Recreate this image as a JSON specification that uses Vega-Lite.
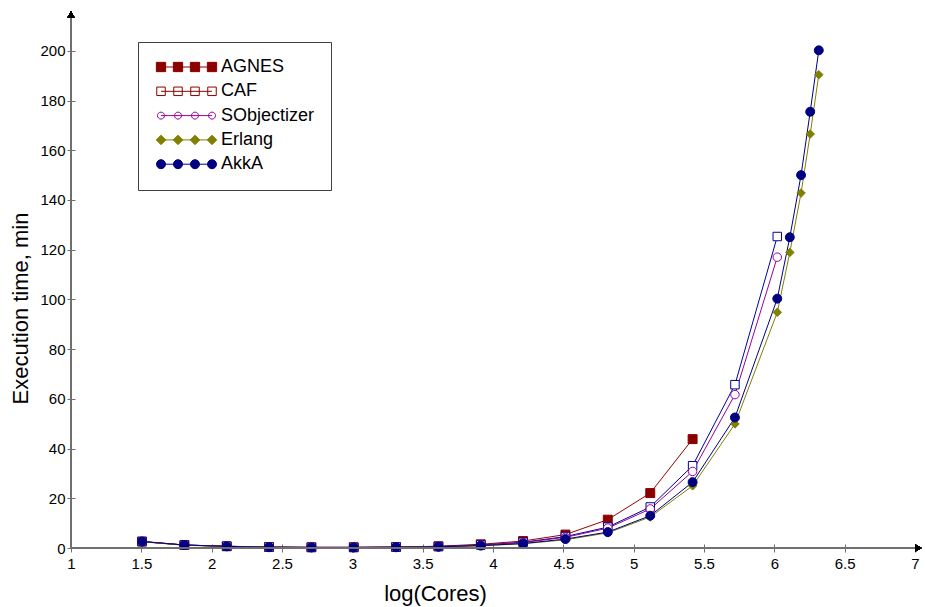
{
  "$schema": "https://vega.github.io/schema/vega-lite/v6.json",
  "width": 844,
  "height": 527,
  "autosize": "none",
  "padding": {"left": 71, "top": 21, "right": 10, "bottom": 59},
  "background": "white",
  "config": {
    "view": {"stroke": null},
    "font": "Liberation Sans",
    "axis": {"grid": false}
  },
  "data": {
    "values": [
      {"series": "AGNES", "logCores": 1.505, "time": 2.6},
      {"series": "AGNES", "logCores": 1.806, "time": 1.2},
      {"series": "AGNES", "logCores": 2.107, "time": 0.7},
      {"series": "AGNES", "logCores": 2.408, "time": 0.4},
      {"series": "AGNES", "logCores": 2.709, "time": 0.3},
      {"series": "AGNES", "logCores": 3.01, "time": 0.3},
      {"series": "AGNES", "logCores": 3.311, "time": 0.4},
      {"series": "AGNES", "logCores": 3.612, "time": 0.7},
      {"series": "AGNES", "logCores": 3.913, "time": 1.5},
      {"series": "AGNES", "logCores": 4.214, "time": 2.8},
      {"series": "AGNES", "logCores": 4.515, "time": 5.4},
      {"series": "AGNES", "logCores": 4.816, "time": 11.4},
      {"series": "AGNES", "logCores": 5.118, "time": 22.1},
      {"series": "AGNES", "logCores": 5.419, "time": 43.8},
      {"series": "CAF", "logCores": 1.505, "time": 2.6},
      {"series": "CAF", "logCores": 1.806, "time": 1.2},
      {"series": "CAF", "logCores": 2.107, "time": 0.7},
      {"series": "CAF", "logCores": 2.408, "time": 0.35},
      {"series": "CAF", "logCores": 2.709, "time": 0.25},
      {"series": "CAF", "logCores": 3.01, "time": 0.25},
      {"series": "CAF", "logCores": 3.311, "time": 0.35},
      {"series": "CAF", "logCores": 3.612, "time": 0.6},
      {"series": "CAF", "logCores": 3.913, "time": 1.2},
      {"series": "CAF", "logCores": 4.214, "time": 2.3},
      {"series": "CAF", "logCores": 4.515, "time": 4.6},
      {"series": "CAF", "logCores": 4.816, "time": 8.4},
      {"series": "CAF", "logCores": 5.118, "time": 16.5},
      {"series": "CAF", "logCores": 5.419, "time": 33.1},
      {"series": "CAF", "logCores": 5.72, "time": 65.7},
      {"series": "CAF", "logCores": 6.021, "time": 125.3},
      {"series": "SObjectizer", "logCores": 1.505, "time": 2.6},
      {"series": "SObjectizer", "logCores": 1.806, "time": 1.2},
      {"series": "SObjectizer", "logCores": 2.107, "time": 0.7},
      {"series": "SObjectizer", "logCores": 2.408, "time": 0.35},
      {"series": "SObjectizer", "logCores": 2.709, "time": 0.25},
      {"series": "SObjectizer", "logCores": 3.01, "time": 0.25},
      {"series": "SObjectizer", "logCores": 3.311, "time": 0.35},
      {"series": "SObjectizer", "logCores": 3.612, "time": 0.55},
      {"series": "SObjectizer", "logCores": 3.913, "time": 1.1},
      {"series": "SObjectizer", "logCores": 4.214, "time": 2.2},
      {"series": "SObjectizer", "logCores": 4.515, "time": 4.3},
      {"series": "SObjectizer", "logCores": 4.816, "time": 8.0},
      {"series": "SObjectizer", "logCores": 5.118, "time": 15.7},
      {"series": "SObjectizer", "logCores": 5.419, "time": 30.8},
      {"series": "SObjectizer", "logCores": 5.72, "time": 61.7},
      {"series": "SObjectizer", "logCores": 6.021, "time": 117},
      {"series": "Erlang", "logCores": 1.505, "time": 2.5},
      {"series": "Erlang", "logCores": 1.806, "time": 1.1},
      {"series": "Erlang", "logCores": 2.107, "time": 0.6},
      {"series": "Erlang", "logCores": 2.408, "time": 0.3},
      {"series": "Erlang", "logCores": 2.709, "time": 0.2},
      {"series": "Erlang", "logCores": 3.01, "time": 0.2},
      {"series": "Erlang", "logCores": 3.311, "time": 0.3},
      {"series": "Erlang", "logCores": 3.612, "time": 0.45},
      {"series": "Erlang", "logCores": 3.913, "time": 0.9},
      {"series": "Erlang", "logCores": 4.214, "time": 1.7},
      {"series": "Erlang", "logCores": 4.515, "time": 3.3},
      {"series": "Erlang", "logCores": 4.816, "time": 6.1},
      {"series": "Erlang", "logCores": 5.118, "time": 12.5},
      {"series": "Erlang", "logCores": 5.419, "time": 25},
      {"series": "Erlang", "logCores": 5.72, "time": 49.9},
      {"series": "Erlang", "logCores": 6.021, "time": 94.8},
      {"series": "Erlang", "logCores": 6.11, "time": 118.9},
      {"series": "Erlang", "logCores": 6.19, "time": 142.8},
      {"series": "Erlang", "logCores": 6.255, "time": 166.5},
      {"series": "Erlang", "logCores": 6.316, "time": 190.4},
      {"series": "AkkA", "logCores": 1.505, "time": 2.6},
      {"series": "AkkA", "logCores": 1.806, "time": 1.2},
      {"series": "AkkA", "logCores": 2.107, "time": 0.65},
      {"series": "AkkA", "logCores": 2.408, "time": 0.3},
      {"series": "AkkA", "logCores": 2.709, "time": 0.2},
      {"series": "AkkA", "logCores": 3.01, "time": 0.2},
      {"series": "AkkA", "logCores": 3.311, "time": 0.3},
      {"series": "AkkA", "logCores": 3.612, "time": 0.5},
      {"series": "AkkA", "logCores": 3.913, "time": 0.95},
      {"series": "AkkA", "logCores": 4.214, "time": 1.8},
      {"series": "AkkA", "logCores": 4.515, "time": 3.6},
      {"series": "AkkA", "logCores": 4.816, "time": 6.4},
      {"series": "AkkA", "logCores": 5.118, "time": 13.0},
      {"series": "AkkA", "logCores": 5.419, "time": 26.5},
      {"series": "AkkA", "logCores": 5.72, "time": 52.5},
      {"series": "AkkA", "logCores": 6.021, "time": 100.3},
      {"series": "AkkA", "logCores": 6.11, "time": 125},
      {"series": "AkkA", "logCores": 6.19, "time": 150},
      {"series": "AkkA", "logCores": 6.255, "time": 175.5},
      {"series": "AkkA", "logCores": 6.316, "time": 200.2}
    ]
  },
  "layer": [
    {
      "mark": {"type": "line", "strokeWidth": 1},
      "encoding": {
        "x": {
          "field": "logCores", "type": "quantitative",
          "scale": {"domain": [1, 7], "nice": false, "zero": false},
          "axis": {
            "title": "log(Cores)",
            "values": [1, 1.25, 1.5, 1.75, 2, 2.25, 2.5, 2.75, 3, 3.25, 3.5, 3.75, 4, 4.25, 4.5, 4.75, 5, 5.25, 5.5, 5.75, 6, 6.25, 6.5, 6.75, 7],
            "labelExpr": "round(datum.value*4) % 2 == 0 ? format(datum.value, '~g') : ''",
            "domain": false,
            "ticks": true, "tickColor": "#707070", "tickSize": 8, "tickWidth": 1,
            "offset": -4,
            "labelPadding": 4, "labelFontSize": 15, "labelColor": "black", "labelFont": "Liberation Sans",
            "labelOverlap": false, "labelFlush": false, "labelBound": false,
            "titleFont": "Liberation Sans", "titleFontSize": 22, "titleFontWeight": "normal", "titleColor": "black",
            "titleX": 364, "titleY": 56, "titleBaseline": "alphabetic", "titleAlign": "center", "titleAnchor": null
          }
        },
        "y": {
          "field": "time", "type": "quantitative",
          "scale": {"domain": [0, 212], "nice": false, "zero": false},
          "axis": {
            "title": "Execution time, min",
            "values": [0, 10, 20, 30, 40, 50, 60, 70, 80, 90, 100, 110, 120, 130, 140, 150, 160, 170, 180, 190, 200, 210],
            "labelExpr": "datum.value % 20 == 0 ? format(datum.value, 'd') : ''",
            "domain": false,
            "ticks": true, "tickColor": "#707070", "tickSize": 8, "tickWidth": 1,
            "offset": -4,
            "labelPadding": 2, "labelFontSize": 15, "labelColor": "black", "labelFont": "Liberation Sans",
            "labelOverlap": false, "labelFlush": false, "labelBound": false,
            "titleFont": "Liberation Sans", "titleFontSize": 22, "titleFontWeight": "normal", "titleColor": "black",
            "titleX": -48, "titleY": 287, "titleAngle": -90, "titleBaseline": "alphabetic", "titleAlign": "center", "titleAnchor": null
          }
        },
        "detail": {"field": "series"},
        "color": {
          "field": "series", "type": "nominal", "legend": null,
          "scale": {"range": ["#990000", "#000080", "#000099", "#808000", "#990099"]}
        }
      }
    },
    {
      "transform": [{"filter": "datum.series === 'AGNES'"}],
      "mark": {"type": "point", "shape": "square", "filled": true, "fill": "#8B0000", "stroke": "#8B0000", "strokeWidth": 1, "opacity": 1, "size": 80},
      "encoding": {"x": {"field": "logCores", "type": "quantitative"}, "y": {"field": "time", "type": "quantitative"}}
    },
    {
      "transform": [{"filter": "datum.series === 'CAF'"}],
      "mark": {"type": "point", "shape": "square", "filled": true, "fill": "white", "stroke": "#000099", "strokeWidth": 1, "opacity": 1, "size": 72},
      "encoding": {"x": {"field": "logCores", "type": "quantitative"}, "y": {"field": "time", "type": "quantitative"}}
    },
    {
      "transform": [{"filter": "datum.series === 'SObjectizer'"}],
      "mark": {"type": "point", "shape": "circle", "filled": true, "fill": "white", "stroke": "#990099", "strokeWidth": 1, "opacity": 1, "size": 72},
      "encoding": {"x": {"field": "logCores", "type": "quantitative"}, "y": {"field": "time", "type": "quantitative"}}
    },
    {
      "transform": [{"filter": "datum.series === 'Erlang'"}],
      "mark": {"type": "point", "shape": "diamond", "filled": true, "fill": "#808000", "stroke": "#808000", "strokeWidth": 1, "opacity": 1, "size": 72},
      "encoding": {"x": {"field": "logCores", "type": "quantitative"}, "y": {"field": "time", "type": "quantitative"}}
    },
    {
      "transform": [{"filter": "datum.series === 'AkkA'"}],
      "mark": {"type": "point", "shape": "circle", "filled": true, "fill": "#000080", "stroke": "#000080", "strokeWidth": 1, "opacity": 1, "size": 80},
      "encoding": {"x": {"field": "logCores", "type": "quantitative"}, "y": {"field": "time", "type": "quantitative"}}
    },
    {
      "mark": {"type": "point", "filled": true, "opacity": 0, "size": 100},
      "encoding": {
        "x": {"field": "logCores", "type": "quantitative"},
        "y": {"field": "time", "type": "quantitative"},
        "shape": {
          "field": "series", "type": "nominal",
          "scale": {
            "domain": ["AGNES", "CAF", "SObjectizer", "Erlang", "AkkA"],
            "range": [
              "M-0.4,0H9.8M-1.33,-0.93h1.86v1.86h-1.86zM2.07,-0.93h1.86v1.86h-1.86zM5.47,-0.93h1.86v1.86h-1.86zM8.87,-0.93h1.86v1.86h-1.86z",
              "M-0.4,0H9.8M-1.25,-0.85h1.7v1.7h-1.7zM2.15,-0.85h1.7v1.7h-1.7zM5.55,-0.85h1.7v1.7h-1.7zM8.95,-0.85h1.7v1.7h-1.7z",
              "M-0.4,0H9.8M-1.1,0a0.7,0.7 0 1,0 1.4,0a0.7,0.7 0 1,0 -1.4,0zM2.3,0a0.7,0.7 0 1,0 1.4,0a0.7,0.7 0 1,0 -1.4,0zM5.7,0a0.7,0.7 0 1,0 1.4,0a0.7,0.7 0 1,0 -1.4,0zM9.1,0a0.7,0.7 0 1,0 1.4,0a0.7,0.7 0 1,0 -1.4,0z",
              "M-0.4,0H9.8M-0.4,-0.95l0.95,0.95l-0.95,0.95l-0.95,-0.95zM3,-0.95l0.95,0.95l-0.95,0.95l-0.95,-0.95zM6.4,-0.95l0.95,0.95l-0.95,0.95l-0.95,-0.95zM9.8,-0.95l0.95,0.95l-0.95,0.95l-0.95,-0.95z",
              "M-0.4,0H9.8M-1.3,0a0.9,0.9 0 1,0 1.8,0a0.9,0.9 0 1,0 -1.8,0zM2.1,0a0.9,0.9 0 1,0 1.8,0a0.9,0.9 0 1,0 -1.8,0zM5.5,0a0.9,0.9 0 1,0 1.8,0a0.9,0.9 0 1,0 -1.8,0zM8.9,0a0.9,0.9 0 1,0 1.8,0a0.9,0.9 0 1,0 -1.8,0z"
            ]
          },
          "legend": {
            "title": null,
            "orient": "none", "legendX": 67, "legendY": 21,
            "strokeColor": "#404040", "fillColor": "white", "padding": 16,
            "symbolSize": 100, "symbolStrokeWidth": 1, "symbolOpacity": 1,
            "labelFont": "Liberation Sans", "labelFontSize": 18, "labelColor": "black",
            "labelOffset": 49, "rowPadding": 6.3
          }
        },
        "fill": {
          "field": "series", "type": "nominal",
          "scale": {"domain": ["AGNES", "CAF", "SObjectizer", "Erlang", "AkkA"], "range": ["#8B0000", "white", "white", "#808000", "#000080"]},
          "legend": {"symbolOpacity": 1}
        },
        "stroke": {
          "field": "series", "type": "nominal",
          "scale": {"domain": ["AGNES", "CAF", "SObjectizer", "Erlang", "AkkA"], "range": ["#8B0000", "#8B0000", "#990099", "#808000", "#000080"]},
          "legend": {"symbolOpacity": 1}
        }
      }
    },
    {
      "mark": {"type": "rule", "color": "#707070", "strokeWidth": 1.2},
      "encoding": {"x": {"datum": 1}, "x2": {"datum": 7.02}, "y": {"datum": 0}}
    },
    {
      "mark": {"type": "rule", "color": "#707070", "strokeWidth": 1.2},
      "encoding": {"x": {"datum": 1}, "y": {"datum": 0}, "y2": {"datum": 213}}
    },
    {
      "mark": {"type": "point", "shape": "triangle-up", "filled": true, "color": "black", "opacity": 1, "size": 55},
      "encoding": {"x": {"datum": 1}, "y": {"datum": 214.5}}
    },
    {
      "mark": {"type": "point", "shape": "triangle-right", "filled": true, "color": "black", "opacity": 1, "size": 40},
      "encoding": {"x": {"datum": 7.025}, "y": {"datum": 0}}
    }
  ]
}
